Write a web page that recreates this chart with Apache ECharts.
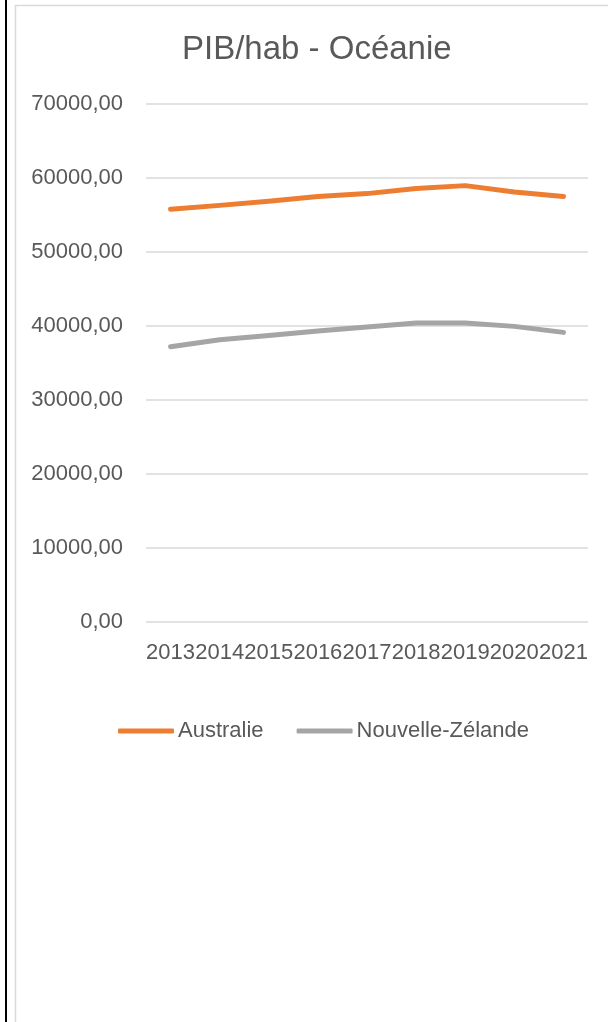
<!DOCTYPE html>
<html>
<head>
<meta charset="utf-8">
<script src="https://cdn.jsdelivr.net/npm/echarts@6/dist/echarts.min.js"></script>
<style>
  html, body { margin: 0; padding: 0; background: #fff; }
  #chart { width: 608px; height: 1022px; }
</style>
</head>
<body>
<div id="chart"></div>
<script>
  const years = ["2013", "2014", "2015", "2016", "2017", "2018", "2019", "2020", "2021"];
  const australie = [55770, 56300, 56850, 57490, 57890, 58570, 58970, 58110, 57490];
  const nouvelleZelande = [37200, 38150, 38730, 39320, 39860, 40400, 40400, 39950, 39140];

  const font = "'Liberation Sans', Arial, sans-serif";
  const textColor = "#595959";

  const myChart = echarts.init(document.getElementById("chart"));

  const option = {
    backgroundColor: "#fff",
    animation: false,
    title: {
      text: "PIB/hab - Océanie",
      left: 182,
      top: 33,
      padding: 0,
      textStyle: { fontFamily: font, fontSize: 33, fontWeight: "normal", color: textColor },
    },
    legend: {
      left: 118,
      top: 720,
      padding: 0,
      itemWidth: 56,
      itemHeight: 5,
      itemGap: 33,
      icon: "roundRect",
      textStyle: { fontFamily: font, fontSize: 22, color: textColor, padding: [0, 0, 0, -1] },
      data: ["Australie", "Nouvelle-Zélande"],
    },
    grid: { left: 146, right: 20, top: 104, bottom: 400 },
    xAxis: {
      type: "category",
      data: years,
      boundaryGap: true,
      axisLine: { show: false },
      axisTick: { show: false },
      axisLabel: { interval: 0, margin: 20, fontFamily: font, fontSize: 22, color: textColor },
    },
    yAxis: {
      type: "value",
      min: 0,
      max: 70000,
      interval: 10000,
      axisLine: { show: false },
      axisTick: { show: false },
      axisLabel: {
        margin: 23,
        fontFamily: font,
        fontSize: 22,
        color: textColor,
        formatter: (v) => v.toFixed(2).replace(".", ","),
      },
      splitLine: { lineStyle: { color: "#D9D9D9", width: 1.5 } },
    },
    graphic: [
      {
        type: "rect",
        shape: { x: 15.5, y: 5.5, width: 700, height: 1100 },
        style: { fill: "none", stroke: "#D9D9D9", lineWidth: 1.5 },
        z: -1,
      },
      {
        type: "rect",
        shape: { x: 5, y: 0, width: 2, height: 1022 },
        style: { fill: "#000" },
      },
    ],
    series: [
      {
        name: "Australie",
        type: "line",
        data: australie,
        symbol: "none",
        lineStyle: { color: "#ED7D31", width: 5, cap: "round", join: "round" },
        itemStyle: { color: "#ED7D31" },
      },
      {
        name: "Nouvelle-Zélande",
        type: "line",
        data: nouvelleZelande,
        symbol: "none",
        lineStyle: { color: "#A5A5A5", width: 5, cap: "round", join: "round" },
        itemStyle: { color: "#A5A5A5" },
      },
    ],
  };

  myChart.setOption(option);
  window.addEventListener("resize", myChart.resize);
</script>
</body>
</html>
